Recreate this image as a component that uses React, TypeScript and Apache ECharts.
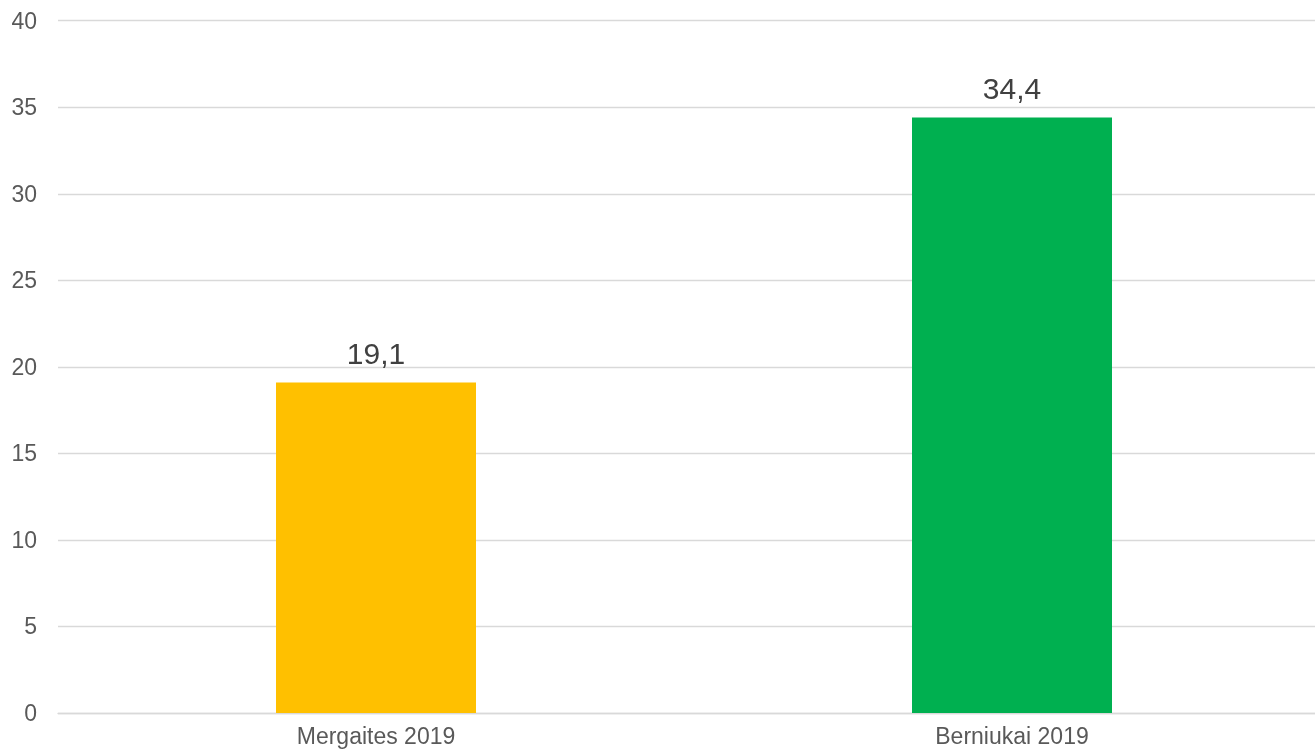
import React, { useEffect, useRef } from "react";
import * as echarts from "echarts";

const categories = ["Mergaites 2019", "Berniukai 2019"];
const values = [19.1, 34.4];
const barColors = ["#FFC000", "#00B050"];
const yTicks = { min: 0, max: 40, interval: 5 };

export default function App() {
  const ref = useRef<HTMLDivElement>(null);
  useEffect(() => {
    document.body.style.margin = "0";
    document.body.style.overflow = "hidden";
    const chart = echarts.init(ref.current!, undefined, { renderer: "svg" });
    chart.setOption({
      animation: false,
      textStyle: { fontFamily: "'Liberation Sans', Arial, sans-serif" },
      grid: { left: 58, top: 20.7, right: 0, bottom: 42, containLabel: false },
      xAxis: {
        type: "category",
        data: categories,
        axisLine: { show: true, lineStyle: { color: "#D9D9D9", width: 1.3 } },
        axisTick: { show: false },
        axisLabel: { color: "#595959", fontSize: 23, margin: 11 },
      },
      yAxis: {
        type: "value",
        min: yTicks.min,
        max: yTicks.max,
        interval: yTicks.interval,
        axisLine: { show: false },
        axisTick: { show: false },
        splitLine: { lineStyle: { color: "#D9D9D9", width: 1.3 } },
        axisLabel: { color: "#595959", fontSize: 23, margin: 21 },
      },
      series: [
        {
          type: "bar",
          barWidth: 200,
          data: values.map((v, i) => ({ value: v, itemStyle: { color: barColors[i] } })),
          label: {
            show: true,
            position: "top",
            distance: 14,
            color: "#404040",
            fontSize: 30,
            formatter: (p: any) => String(p.value).replace(".", ","),
          },
        },
      ],
    });
    return () => chart.dispose();
  }, []);
  return (
    <div
      ref={ref}
      style={{ position: "fixed", left: 0, top: 0, width: 1330, height: 755 }}
    />
  );
}
